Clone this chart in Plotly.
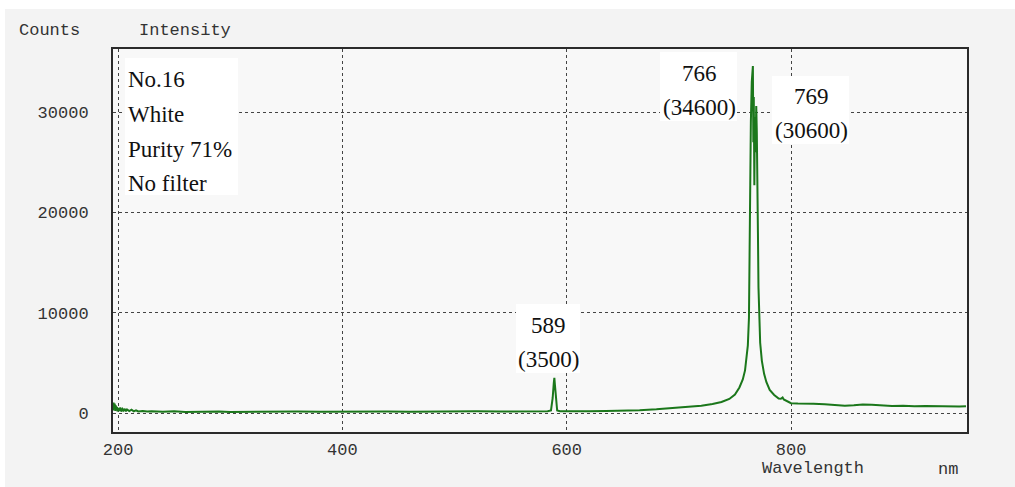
import plotly.graph_objects as go

# Emission spectrum, sample No.16 (wavelength in nm, intensity in counts)
wavelength_nm = [
    195.5, 196, 196.5, 197, 197.5, 198, 198.5, 199, 199.5, 200,
    201, 202, 203, 204, 205, 206, 207, 208, 210, 212,
    214, 216, 218, 222, 226, 230, 240, 250, 260, 270,
    280, 290, 300, 320, 340, 360, 380, 400, 420, 440,
    460, 480, 500, 520, 540, 560, 575, 583, 586, 587.5,
    588.5, 589, 589.5, 590.5, 591.5, 594, 600, 610, 620, 635,
    650, 665, 680, 695, 710, 720, 730, 738, 745, 750,
    754, 757, 759, 760.5, 761.5, 762.5, 763, 763.5, 764.2, 765,
    766, 766.4, 766.8, 767.3, 767.8, 768.3, 769, 769.5, 770, 770.5,
    771, 771.7, 772.5, 774, 776, 778, 781, 785, 789, 791,
    792.5, 793.5, 796, 800, 806, 812, 820, 830, 840, 848,
    856, 864, 872, 880, 890, 900, 910, 920, 930, 940,
    950, 956,
]
intensity_counts = [
    250, 1050, 350, 950, 200, 750, 300, 600, 150, 500,
    200, 550, 150, 400, 250, 420, 170, 350, 200, 330,
    170, 270, 150, 210, 140, 180, 130, 170, 110, 150,
    120, 160, 110, 140, 110, 150, 120, 140, 110, 150,
    120, 160, 130, 170, 140, 160, 150, 170, 250, 1500,
    3000, 3500, 2800, 900, 250, 170, 160, 190, 170, 210,
    230, 280, 370, 480, 610, 730, 900, 1100, 1400, 1850,
    2550, 3350, 4250, 5450, 6750, 9500, 16000, 24000, 29000, 33000,
    34600, 27000, 31500, 22700, 29500, 26000, 30600, 28000, 24500, 18000,
    12500, 9000, 7000, 5200, 3900, 3100, 2300, 1800, 1450, 1420,
    1550, 1350, 1180, 980, 940, 950, 920, 880, 760, 720,
    780, 860, 830, 740, 690, 720, 670, 700, 660, 690,
    650, 680,
]

# Labelled emission lines
peak_nm = [589, 766, 769]
peak_counts = [3500, 34600, 30600]

sample_info = ["No.16", "White", "Purity 71%", "No filter"]

x_ticks = [200, 400, 600, 800]
y_ticks = [0, 10000, 20000, 30000]

W, H = 1015, 487
L, R, T, B = 113, 967, 49, 432


def fx(px):
    return (px - L) / (R - L)


def fy(py):
    return (B - py) / (B - T)


fig = go.Figure()
fig.add_trace(go.Scatter(
    x=wavelength_nm, y=intensity_counts, mode="lines",
    line=dict(color="#1b771b", width=2),
    hoverinfo="skip", showlegend=False,
))

tick_font = dict(family="Liberation Mono, DejaVu Sans Mono, monospace", size=17, color="#333333")
serif = dict(family="Liberation Serif, Times New Roman, serif", size=23, color="#111111")
grid = dict(showgrid=True, gridcolor="#444444", gridwidth=1, griddash="dot",
            showline=True, linecolor="#2a2a2a", linewidth=2, mirror=True,
            zeroline=False, ticks="", tickfont=tick_font)

fig.update_xaxes(range=[195.5, 956.9], tickvals=x_ticks, ticklabelstandoff=1, **grid)
fig.update_yaxes(range=[-1894, 36290], tickvals=y_ticks, tickformat="d",
                 ticklabelstandoff=19, **grid)

shapes = [
    # white strip along the top and left edges of the page
    dict(type="rect", xref="paper", yref="paper", x0=fx(0), x1=fx(W), y0=fy(9), y1=fy(0),
         fillcolor="white", line=dict(width=0), layer="below"),
    dict(type="rect", xref="paper", yref="paper", x0=fx(0), x1=fx(5), y0=fy(H), y1=fy(0),
         fillcolor="white", line=dict(width=0), layer="below"),
    # sample info box
    dict(type="rect", xref="paper", yref="paper", x0=fx(125), x1=fx(238), y0=fy(195), y1=fy(58),
         fillcolor="white", line=dict(width=0), layer="above"),
]

annotations = []
for i, line in enumerate(sample_info):
    annotations.append(dict(x=fx(126), y=fy(80 + 34.5 * i), xref="paper", yref="paper",
                            text=line, showarrow=False, xanchor="left", yanchor="middle",
                            font=serif))

# peak label boxes: (centre x, top, bottom, first line y, second line y, left, right) in page pixels
label_boxes = {
    589: (548, 304, 373, 325, 359, 516, 580),
    766: (699, 52, 121, 73, 107, 660, 737),
    769: (811, 76, 144, 97, 130, 772, 849),
}
for nm, counts in zip(peak_nm, peak_counts):
    cx, top, bot, y1, y2, bx0, bx1 = label_boxes[nm]
    shapes.append(dict(type="rect", xref="paper", yref="paper", x0=fx(bx0), x1=fx(bx1),
                       y0=fy(bot), y1=fy(top), fillcolor="white", line=dict(width=0),
                       layer="above"))
    annotations.append(dict(x=fx(cx), y=fy(y1), xref="paper", yref="paper", text=str(nm),
                            showarrow=False, xanchor="center", yanchor="middle", font=serif))
    annotations.append(dict(x=fx(cx), y=fy(y2), xref="paper", yref="paper",
                            text=f"({counts})", showarrow=False, xanchor="center",
                            yanchor="middle", font=serif))

# axis titles
annotations += [
    dict(x=fx(17), y=fy(30), text="Counts", xanchor="left"),
    dict(x=fx(137), y=fy(30), text="Intensity", xanchor="left"),
    dict(x=fx(760), y=fy(468), text="Wavelength", xanchor="left"),
    dict(x=fx(936), y=fy(469), text="nm", xanchor="left"),
]
for a in annotations[-4:]:
    a.update(xref="paper", yref="paper", showarrow=False, yanchor="middle", font=tick_font)

fig.update_layout(
    width=W, height=H,
    margin=dict(l=L, r=W - R, t=T, b=H - B, autoexpand=False),
    paper_bgcolor="#f3f3f3", plot_bgcolor="#f8f8f8",
    shapes=shapes, annotations=annotations, showlegend=False,
)

fig.write_html("out.html")
